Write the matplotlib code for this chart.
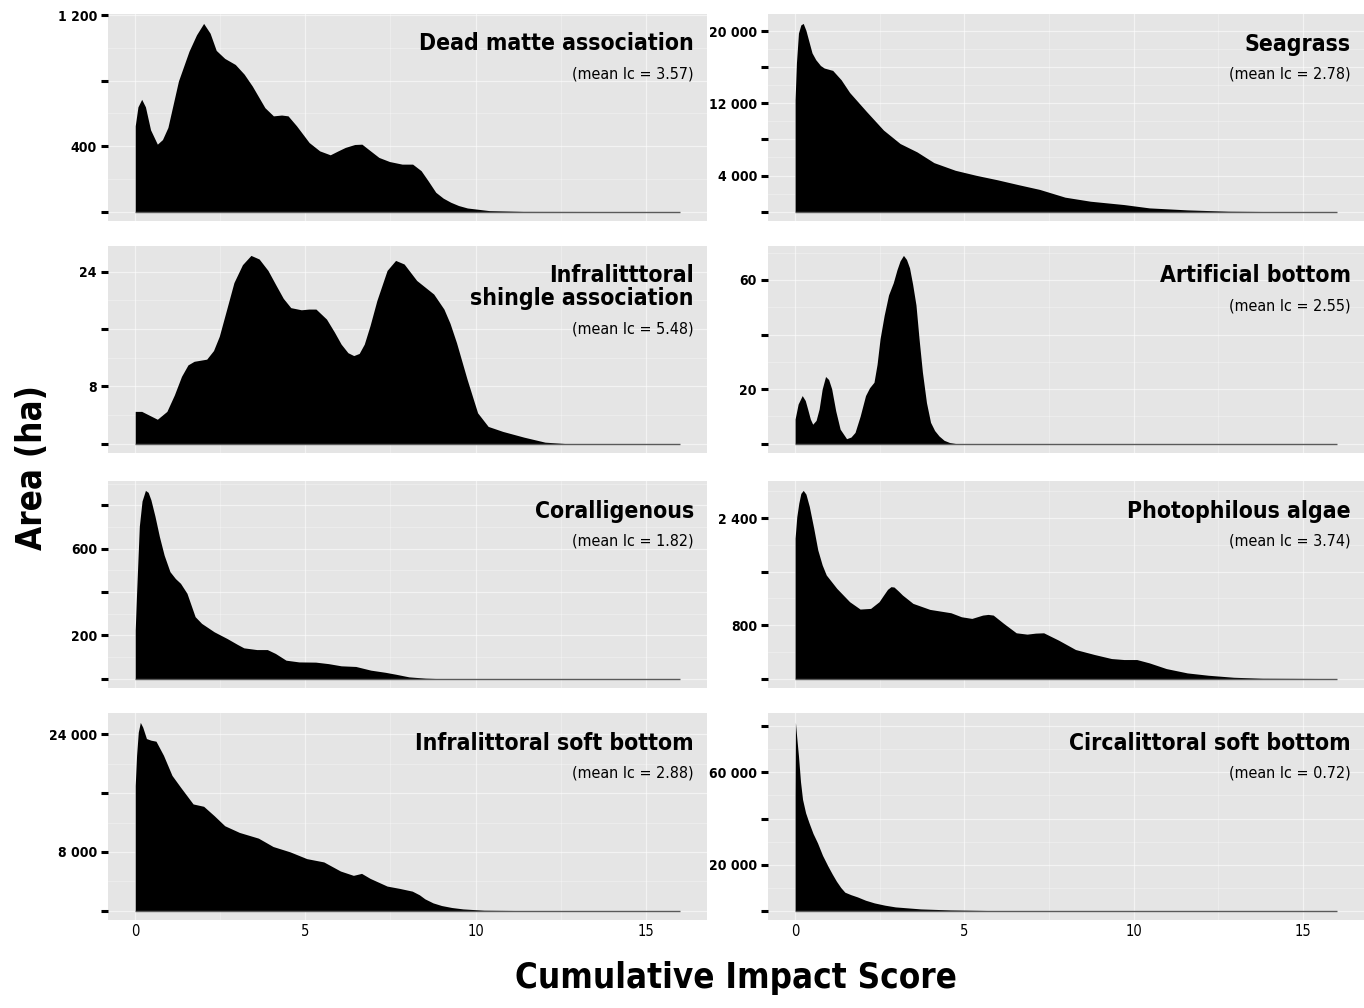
import matplotlib
matplotlib.use("Agg")
import matplotlib.pyplot as plt
from matplotlib.ticker import FixedLocator

plt.rcParams['font.family'] = ['Liberation Sans Narrow', 'DejaVu Sans Condensed', 'DejaVu Sans']
plt.rcParams['font.stretch'] = 'condensed'

# ---- data: (x = impact score, y = area in ha) ----
dead_x = [0, 0.08, 0.19, 0.30, 0.45, 0.65, 0.80, 0.96, 1.27, 1.58, 1.80, 2.01, 2.20, 2.38,
          2.63, 2.94, 3.20, 3.44, 3.81, 4.06, 4.30, 4.49, 4.74, 5.11, 5.42, 5.73, 5.95, 6.17,
          6.45, 6.66, 6.85, 7.16, 7.47, 7.84, 8.15, 8.40, 8.60, 8.83, 9.05, 9.27, 9.50, 9.76,
          10.4, 11.4, 16]
dead_y = [524, 640, 686, 640, 500, 412, 440, 514, 798, 980, 1080, 1150, 1090, 985,
          936, 899, 840, 767, 635, 585, 590, 585, 524, 422, 371, 347, 370, 392,
          410, 412, 381, 331, 306, 290, 290, 250, 190, 118, 82, 57, 37, 22,
          6, 1, 0]

seag_x = [0, 0.04, 0.10, 0.17, 0.24, 0.32, 0.42, 0.50, 0.61, 0.75, 0.86, 1.11, 1.36, 1.61,
          2.11, 2.61, 3.10, 3.60, 4.10, 4.73, 5.35, 5.97, 6.60, 7.22, 7.97, 8.72, 9.71, 10.46,
          11.58, 12.8, 14.1, 16]
seag_y = [12390, 16500, 19800, 20700, 20870, 20100, 18710, 17600, 16850, 16200, 15920, 15660,
          14620, 13210, 11090, 9040, 7550, 6620, 5430, 4580, 4020, 3530, 2980, 2460, 1600,
          1150, 780, 410, 190, 40, 0, 0]

shin_x = [0, 0.19, 0.40, 0.65, 0.93, 1.15, 1.36, 1.55, 1.73, 2.10, 2.30, 2.47, 2.70, 2.90,
          3.15, 3.40, 3.64, 3.90, 4.14, 4.35, 4.57, 4.88, 5.10, 5.31, 5.62, 5.85, 6.05, 6.25,
          6.42, 6.58, 6.73, 6.90, 7.10, 7.40, 7.65, 7.90, 8.27, 8.77, 9.07, 9.25, 9.44, 9.75,
          10.06, 10.37, 10.8, 11.42, 12.04, 12.65, 16]
shin_y = [4.5, 4.5, 4.0, 3.4, 4.5, 6.8, 9.4, 11.0, 11.5, 11.8, 13.0, 15.0, 19.0, 22.5,
          25.0, 26.3, 25.8, 24.2, 22.1, 20.3, 19.0, 18.7, 18.8, 18.8, 17.4, 15.6, 13.9, 12.7,
          12.3, 12.6, 13.9, 16.5, 20.0, 24.2, 25.6, 25.1, 22.8, 20.9, 18.8, 16.8, 14.1, 9.0,
          4.3, 2.4, 1.7, 0.9, 0.2, 0, 0]

arti_x = [0, 0.09, 0.21, 0.30, 0.37, 0.45, 0.52, 0.62, 0.71, 0.80, 0.90, 0.99, 1.08, 1.20,
          1.33, 1.52, 1.65, 1.77, 1.92, 2.08, 2.20, 2.33, 2.42, 2.51, 2.63, 2.76, 2.90, 3.01,
          3.10, 3.20, 3.29, 3.38, 3.47, 3.57, 3.66, 3.76, 3.88, 4.00, 4.12, 4.25, 4.40, 4.56,
          4.75, 16]
arti_y = [9.0, 14.5, 17.6, 15.8, 12.7, 9.0, 7.1, 8.5, 12.7, 20.0, 24.6, 23.5, 20.1, 12.0,
          5.3, 1.8, 2.4, 4.1, 10.0, 17.6, 20.5, 22.5, 29.0, 38.5, 47.0, 54.5, 59.0, 63.8,
          67.0, 69.0, 67.5, 64.4, 58.5, 50.8, 38.5, 26.2, 15.0, 7.8, 4.8, 2.8, 1.2, 0.4,
          0, 0]

cora_x = [0, 0.04, 0.12, 0.20, 0.30, 0.38, 0.46, 0.58, 0.71, 0.85, 1.02, 1.18, 1.33, 1.52,
          1.64, 1.76, 1.95, 2.32, 2.70, 3.00, 3.19, 3.57, 3.88, 4.12, 4.43, 4.81, 5.30, 5.68,
          6.05, 6.48, 6.92, 7.35, 7.66, 8.04, 8.53, 8.9, 16]
cora_y = [224, 394, 703, 820, 869, 860, 826, 750, 656, 570, 494, 462, 440, 394,
          340, 286, 255, 216, 185, 158, 142, 134, 134, 116, 85, 77, 76, 69,
          59, 56, 39, 29, 20, 8, 2, 0, 0]

phot_x = [0, 0.05, 0.11, 0.17, 0.24, 0.32, 0.42, 0.55, 0.67, 0.80, 0.92, 1.23, 1.61, 1.92,
          2.23, 2.48, 2.60, 2.73, 2.83, 2.92, 3.05, 3.17, 3.48, 3.98, 4.60, 4.91, 5.22, 5.38,
          5.54, 5.70, 5.85, 6.16, 6.53, 6.85, 7.10, 7.34, 7.78, 8.28, 8.84, 9.34, 9.71, 10.09,
          10.46, 10.96, 11.58, 12.2, 12.95, 13.8, 16]
phot_y = [2100, 2420, 2625, 2770, 2815, 2760, 2575, 2250, 1925, 1700, 1550, 1350, 1150, 1040,
          1050, 1150, 1240, 1335, 1375, 1370, 1310, 1250, 1125, 1035, 985, 925, 900, 925,
          950, 960, 950, 825, 685, 665, 680, 685, 575, 435, 360, 300, 285, 285,
          235, 150, 85, 50, 20, 5, 0]

isof_x = [0, 0.04, 0.09, 0.15, 0.22, 0.33, 0.46, 0.61, 0.83, 1.08, 1.33, 1.70, 2.01, 2.32,
          2.63, 3.06, 3.62, 4.05, 4.55, 5.04, 5.54, 6.03, 6.41, 6.65, 6.90, 7.40, 7.77, 8.14,
          8.35, 8.51, 8.75, 9.0, 9.30, 9.63, 10.25, 11.4, 16]
isof_y = [17050, 21160, 24300, 25640, 25000, 23440, 23220, 23080, 21160, 18420, 16820, 14530,
          14210, 12930, 11560, 10650, 9870, 8730, 8000, 7080, 6630, 5390, 4800, 5070, 4390,
          3340, 3020, 2650, 2150, 1600, 1050, 690, 420, 230, 50, 0, 0]

circ_x = [0, 0.01, 0.05, 0.10, 0.16, 0.22, 0.31, 0.41, 0.53, 0.66, 0.81, 0.97, 1.10, 1.22,
          1.35, 1.47, 1.65, 1.84, 2.08, 2.34, 2.65, 2.96, 3.71, 4.58, 5.83, 16]
circ_y = [49800, 81750, 75000, 67200, 56000, 48350, 42500, 38190, 33500, 29480, 24000, 19310,
          15800, 12780, 10000, 7990, 6900, 5950, 4500, 3340, 2350, 1600, 730, 290, 0, 0]

titles = ["Dead matte association", "Seagrass",
          "Infralitttoral\nshingle association", "Artificial bottom",
          "Coralligenous", "Photophilous algae",
          "Infralittoral soft bottom", "Circalittoral soft bottom"]
means = ["3.57", "2.78", "5.48", "2.55", "1.82", "3.74", "2.88", "0.72"]
series_x = [dead_x, seag_x, shin_x, arti_x, cora_x, phot_x, isof_x, circ_x]
series_y = [dead_y, seag_y, shin_y, arti_y, cora_y, phot_y, isof_y, circ_y]
y_breaks = [[0, 400, 800, 1200], [0, 4000, 8000, 12000, 16000, 20000],
            [0, 8, 16, 24], [0, 20, 40, 60],
            [0, 200, 400, 600, 800], [0, 800, 1600, 2400],
            [0, 8000, 16000, 24000], [0, 20000, 40000, 60000, 80000]]
y_labels = [["", "400", "", "1 200"], ["", "4 000", "", "12 000", "", "20 000"],
            ["", "8", "", "24"], ["", "20", "", "60"],
            ["", "200", "", "600", ""], ["", "800", "", "2 400"],
            ["", "8 000", "", "24 000"], ["", "20 000", "", "60 000", ""]]
x_breaks = [0, 5, 10, 15]

W, H = 1364, 1008
fig = plt.figure(figsize=(W / 100, H / 100), dpi=100)

cols = [(108, 707), (768, 1364)]
rows = [(14, 221), (246, 453), (481, 688), (713, 920)]
bg = '#E5E5E5'

for i in range(8):
    r, c = divmod(i, 2)
    x0, x1 = cols[c]
    y0, y1 = rows[r]
    ax = fig.add_axes([x0 / W, 1 - y1 / H, (x1 - x0) / W, (y1 - y0) / H])
    ax.set_facecolor(bg)
    for s in ax.spines.values():
        s.set_visible(False)

    xs, ys = series_x[i], series_y[i]
    ax.fill_between(xs, ys, 0, color='black', lw=0, zorder=3)
    ax.hlines(0, xs[0], xs[-1], color='#5a5a5a', lw=1.0, zorder=3)

    ymax = max(ys)
    ax.set_xlim(-0.8, 16.8)
    ax.set_ylim(-0.05 * ymax, 1.05 * ymax)

    ax.xaxis.set_major_locator(FixedLocator(x_breaks))
    ax.xaxis.set_minor_locator(FixedLocator([2.5, 7.5, 12.5]))
    brk = y_breaks[i]
    step = brk[1] - brk[0]
    ax.yaxis.set_major_locator(FixedLocator(brk))
    ax.yaxis.set_minor_locator(FixedLocator([b + step / 2 for b in brk]))
    ax.set_yticklabels(y_labels[i], fontsize=10, fontweight='bold')
    ax.grid(which='major', color='white', lw=0.9, alpha=0.55, zorder=0)
    ax.grid(which='minor', color='white', lw=0.5, alpha=0.4, zorder=0)
    ax.set_axisbelow(True)
    ax.tick_params(axis='y', which='major', length=5, width=2.2, color='black', pad=3)
    ax.tick_params(axis='y', which='minor', length=0)
    ax.tick_params(axis='x', which='both', length=0, pad=3)
    if r == 3:
        ax.set_xticklabels([str(v) for v in x_breaks], fontsize=10.5)
    else:
        ax.set_xticklabels([])

    lines = titles[i].split("\n")
    for k, line in enumerate(lines):
        ax.annotate(line, xy=(1, 1), xycoords='axes fraction',
                    xytext=(-13 * 0.72, -(30 + 23 * k) * 0.72), textcoords='offset points',
                    ha='right', va='center', fontsize=16.5, fontweight='bold', zorder=5)
    ax.annotate("(mean Ic = %s)" % means[i], xy=(1, 1), xycoords='axes fraction',
                xytext=(-13 * 0.72, -(60 + 23 * (len(lines) - 1)) * 0.72),
                textcoords='offset points', ha='right', va='center', fontsize=11.5, zorder=5)

fig.text(32 / W, 1 - 468 / H, "Area (ha)", rotation=90, ha='center', va='center',
         fontsize=25, fontweight='bold')
fig.text(736 / W, 1 - 978 / H, "Cumulative Impact Score", ha='center', va='center',
         fontsize=25, fontweight='bold')

fig.savefig("out.png", dpi=100, facecolor='white')
